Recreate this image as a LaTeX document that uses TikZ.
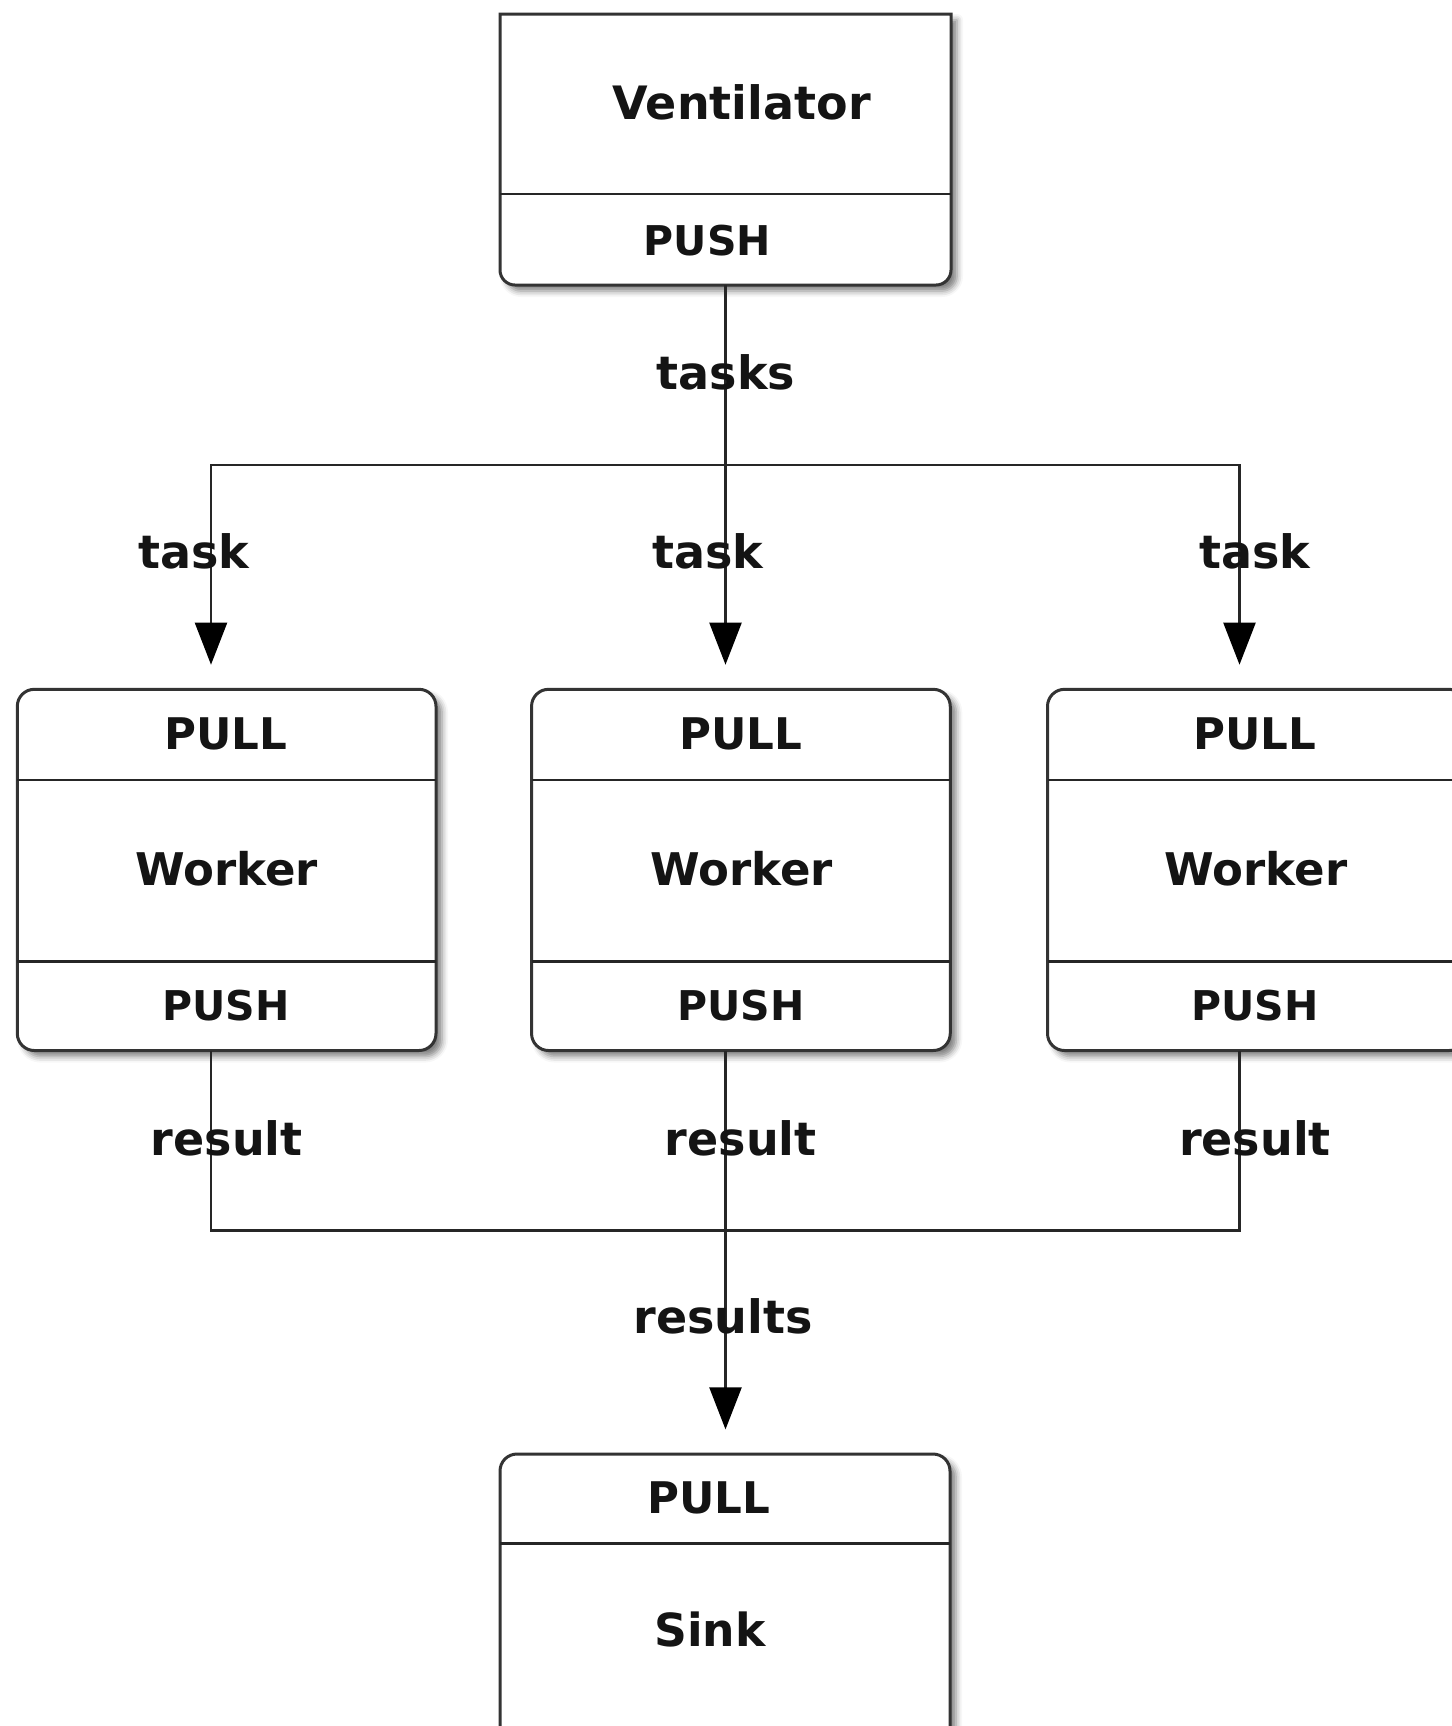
\documentclass[tikz,border=0pt]{standalone}
\usepackage{fontspec}
\setmainfont{DejaVu Sans}
\usetikzlibrary{arrows.meta,shadows.blur,calc}
\begin{document}
\begin{tikzpicture}[x=0.5pt,y=-0.5pt,
  line/.style={draw=black!85, line width=1.1pt},
  arr/.style={line, -{Triangle[length=21pt,width=16pt,color=black]}, shorten >=12.3pt},
  boxline/.style={draw=black!80, line width=1.5pt, fill=white,
    blur shadow={shadow xshift=3pt, shadow yshift=-3pt, shadow blur radius=3pt, shadow opacity=50}},
  divline/.style={draw=black!85, line width=1.3pt},
  wbox/.style={boxline, rectangle, rounded corners=8.5pt, minimum width=209.35pt,
    minimum height=180.6pt, outer sep=0pt, inner sep=0pt},
  lbl/.style={font=\bfseries\fontsize{23pt}{25pt}\selectfont, anchor=base, inner sep=0pt, text=black!92},
  tpush/.style={font=\bfseries\fontsize{20.5pt}{22pt}\selectfont, anchor=base, inner sep=0pt, text=black!92},
  tpull/.style={font=\bfseries\fontsize{21.8pt}{23pt}\selectfont, anchor=base, inner sep=0pt, text=black!92},
  tname/.style={font=\bfseries\fontsize{23pt}{25pt}\selectfont, anchor=base, inner sep=0pt, text=black!92},
  tworker/.style={font=\bfseries\fontsize{22.5pt}{24pt}\selectfont, anchor=base, inner sep=0pt, text=black!92},
  tsink/.style={font=\bfseries\fontsize{22.8pt}{24pt}\selectfont, anchor=base, inner sep=0pt, text=black!92}
]
\useasboundingbox (0,0) rectangle (1452,1726);
\clip (0,0) rectangle (1452,1726);

% box frames
\node[draw=none, minimum width=225.5pt, minimum height=135.5pt, outer sep=0pt, inner sep=0pt] (vent) at (725.5,149.5) {};
\path[boxline] (vent.north west) -- (vent.north east) -- ($(vent.south east)+(0,-15)$)
  arc[start angle=0, end angle=90, radius=15] -- ($(vent.south west)+(15,0)$)
  arc[start angle=90, end angle=180, radius=15] -- cycle;
\draw[divline] (vent.west |- 0,194) -- (vent.east |- 0,194);

\node[wbox] (w1) at (226.65,869.9) {};
\node[wbox] (w2) at (740.9,869.9) {};
\node[wbox] (w3) at (1256.85,869.9) {};
\foreach \w in {w1,w2,w3}{
  \draw[divline] (\w.west |- 0,780) -- (\w.east |- 0,780);
  \draw[divline] (\w.west |- 0,961.7) -- (\w.east |- 0,961.7);
}

\node[wbox, minimum width=225pt, minimum height=173pt] (sink) at (725,1627) {};
\draw[divline] (sink.west |- 0,1543.3) -- (sink.east |- 0,1543.3);

% connectors
\coordinate (ts) at (725.5,465);
\coordinate (tl) at (211,465);
\coordinate (tr) at (1239.5,465);
\coordinate (rl) at (211,1230.5);
\coordinate (rm) at (725.5,1230.5);
\coordinate (rr) at (1239.5,1230.5);

\draw[arr] (vent.south) -- (ts |- w2.north);
\draw[arr] (ts) -- (tl) -- (tl |- w1.north);
\draw[arr] (ts) -- (tr) -- (tr |- w3.north);
\draw[line] (rl |- w1.south) -- (rl) -- (rr) -- (rr |- w3.south);
\draw[arr] (rm |- w2.south) -- (rm |- sink.north);

% texts in boxes
\node[tname] (ventT) at (741.7,119) {Ventilator};
\node[tpush] (ventP) at (707.5,255) {PUSH};

\node[tpull] (w1a) at (225.8,749) {PULL};
\node[tworker] (w1b) at (226.7,885) {Worker};
\node[tpush] (w1c) at (225.8,1020) {PUSH};
\node[tpull] (w2a) at (740.8,749) {PULL};
\node[tworker] (w2b) at (741.7,885) {Worker};
\node[tpush] (w2c) at (740.8,1020) {PUSH};
\node[tpull] (w3a) at (1255,749) {PULL};
\node[tworker] (w3b) at (1255.9,885) {Worker};
\node[tpush] (w3c) at (1255,1020) {PUSH};

\node[tpull] (sinkP) at (709,1513) {PULL};
\node[tsink] (sinkT) at (710,1646.7) {Sink};

% connector labels
\node[lbl] (lt) at (725.8,389.3) {tasks};
\node[lbl] (l1) at (194,568.3) {task};
\node[lbl] (l2) at (708,568.3) {task};
\node[lbl] (l3) at (1255,568.3) {task};
\node[lbl] (r1) at (226.7,1155) {result};
\node[lbl] (r2) at (740.8,1155) {result};
\node[lbl] (r3) at (1255,1155) {result};
\node[lbl] (rs) at (723,1333) {results};
\end{tikzpicture}
\end{document}
